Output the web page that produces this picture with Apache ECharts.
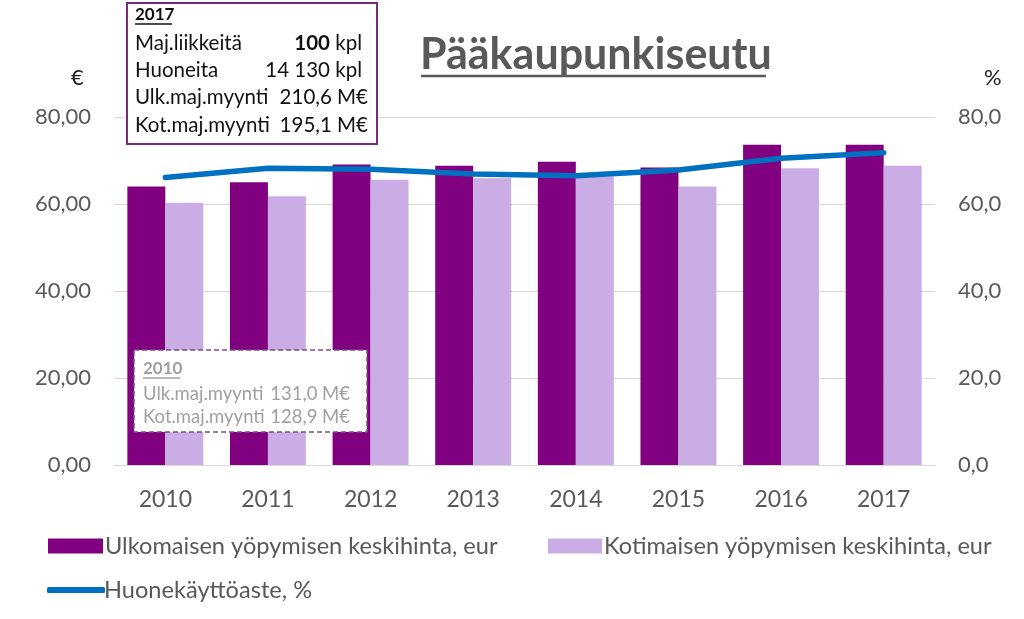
<!DOCTYPE html>
<html><head><meta charset="utf-8">
<script src="https://cdn.jsdelivr.net/npm/echarts@6/dist/echarts.min.js"></script>
<style>html,body{margin:0;padding:0;background:#fff}#c{width:1024px;height:619px}</style>
</head><body><div id="c"></div>
<script>
const years = ['2010','2011','2012','2013','2014','2015','2016','2017'];
const ulkHinta = [64.0, 65.0, 69.1, 68.8, 69.7, 68.4, 73.6, 73.6];
const kotHinta = [60.3, 61.8, 65.6, 65.9, 66.3, 64.0, 68.2, 68.8];
const kayttoaste = [66.1, 68.2, 68.0, 66.9, 66.5, 67.8, 70.5, 71.8];
const seriesNames = ['Ulkomaisen yöpymisen keskihinta, eur','Kotimaisen yöpymisen keskihinta, eur','Huonekäyttöaste, %'];

const FONT = 'Lato, "Open Sans", sans-serif';
const GRAY = '#595959';
const chart = echarts.init(document.getElementById('c'));
const txt = (x, y, text, opts) => Object.assign({type:'text', x, y, z: 101, style: Object.assign({text, font: '20.5px ' + FONT, fill: '#111', textVerticalAlign:'middle'}, opts || {})});
const uline = (x1, x2, y, color, w) => ({type:'line', z: 101, shape:{x1, y1:y, x2, y2:y}, style:{stroke:color, lineWidth:w}});
const legText = {color: GRAY, fontSize: 23.6, fontFamily: FONT, padding: [0, 0, 0, -3]};
const axText = {color: GRAY, fontSize: 22, fontFamily: FONT};

chart.setOption({
  animation: false,
  grid: {left: 114, right: 89, top: 117, bottom: 154},
  legend: [
    {data: [seriesNames[0]], left: 43, top: 529, itemWidth: 55, itemHeight: 15, icon: 'rect', textStyle: legText},
    {data: [seriesNames[1]], left: 543, top: 529, itemWidth: 54, itemHeight: 15, icon: 'rect', textStyle: legText},
    {data: [{name: seriesNames[2], icon: 'roundRect'}], left: 42, top: 573, itemWidth: 58, itemHeight: 6,
     textStyle: Object.assign({}, legText, {padding: [0, 0, 0, -6]})}
  ],
  xAxis: {type: 'category', data: years,
    axisLine: {lineStyle: {color: '#D9D9D9', width: 1}}, axisTick: {show: false},
    axisLabel: Object.assign({}, axText, {margin: 23, fontSize: 23})},
  yAxis: [
    {type: 'value', min: 0, max: 80, interval: 20, position: 'left',
     axisLabel: Object.assign({margin: 23, formatter: v => v.toFixed(2).replace('.', ',')}, axText),
     splitLine: {lineStyle: {color: '#D9D9D9', width: 1}}, axisLine: {show: false}, axisTick: {show: false}},
    {type: 'value', min: 0, max: 80, interval: 20, position: 'right',
     axisLabel: Object.assign({margin: 23, formatter: v => v.toFixed(1).replace('.', ',')}, axText),
     splitLine: {show: false}, axisLine: {show: false}, axisTick: {show: false}}
  ],
  series: [
    {name: seriesNames[0], type: 'bar', data: ulkHinta, yAxisIndex: 0, barGap: '0%', barCategoryGap: '26%',
     itemStyle: {color: '#800080'}},
    {name: seriesNames[1], type: 'bar', data: kotHinta, yAxisIndex: 0,
     itemStyle: {color: '#CBADE5'}},
    {name: seriesNames[2], type: 'line', data: kayttoaste, yAxisIndex: 1, symbol: 'none', z: 5,
     lineStyle: {color: '#0070C0', width: 5.5, cap: 'round', join: 'round'}, itemStyle: {color: '#0070C0'}}
  ],
  graphic: [
    // title
    txt(420, 55, 'Pääkaupunkiseutu', {font: 'bold 43px ' + FONT, fill: GRAY}),
    uline(421, 766, 76, GRAY, 2.5),
    // axis units
    txt(71, 78, '€', {font: '22px ' + FONT, fill: '#222'}),
    txt(984, 78, '%', {font: '22px ' + FONT, fill: '#222'}),
    // 2017 box
    {type: 'rect', z: 100, shape: {x: 127, y: 3, width: 250, height: 141}, style: {fill: '#fff', stroke: '#7A2A7A', lineWidth: 2}},
    txt(135, 15, '2017', {font: 'bold 17px ' + FONT}),
    uline(135, 172, 24, '#111', 1.3),
    txt(135, 43, 'Maj.liikkeitä'),
    txt(362, 43, '{b|100} kpl', {textAlign: 'right', rich: {b: {font: 'bold 20.5px ' + FONT, fill: '#111'}}}),
    txt(135, 70, 'Huoneita'),
    txt(362, 70, '14 130 kpl', {textAlign: 'right'}),
    txt(135, 97, 'Ulk.maj.myynti'),
    txt(368, 97, '210,6 M€', {textAlign: 'right'}),
    txt(135, 125, 'Kot.maj.myynti'),
    txt(368, 125, '195,1 M€', {textAlign: 'right'}),
    // 2010 box
    {type: 'rect', z: 100, shape: {x: 134, y: 350, width: 233, height: 82}, style: {fill: '#fff', stroke: '#7E4A8E', lineWidth: 1.5, lineDash: [5, 3]}},
    txt(143, 369, '2010', {font: 'bold 17px ' + FONT, fill: '#A0A0A0'}),
    uline(143, 180, 378, '#A0A0A0', 1.3),
    txt(143, 394, 'Ulk.maj.myynti', {font: '18.5px ' + FONT, fill: '#A0A0A0'}),
    txt(350, 394, '131,0 M€', {font: '18.5px ' + FONT, fill: '#A0A0A0', textAlign: 'right'}),
    txt(143, 417, 'Kot.maj.myynti', {font: '18.5px ' + FONT, fill: '#A0A0A0'}),
    txt(350, 417, '128,9 M€', {font: '18.5px ' + FONT, fill: '#A0A0A0', textAlign: 'right'})
  ]
});
</script></body></html>
